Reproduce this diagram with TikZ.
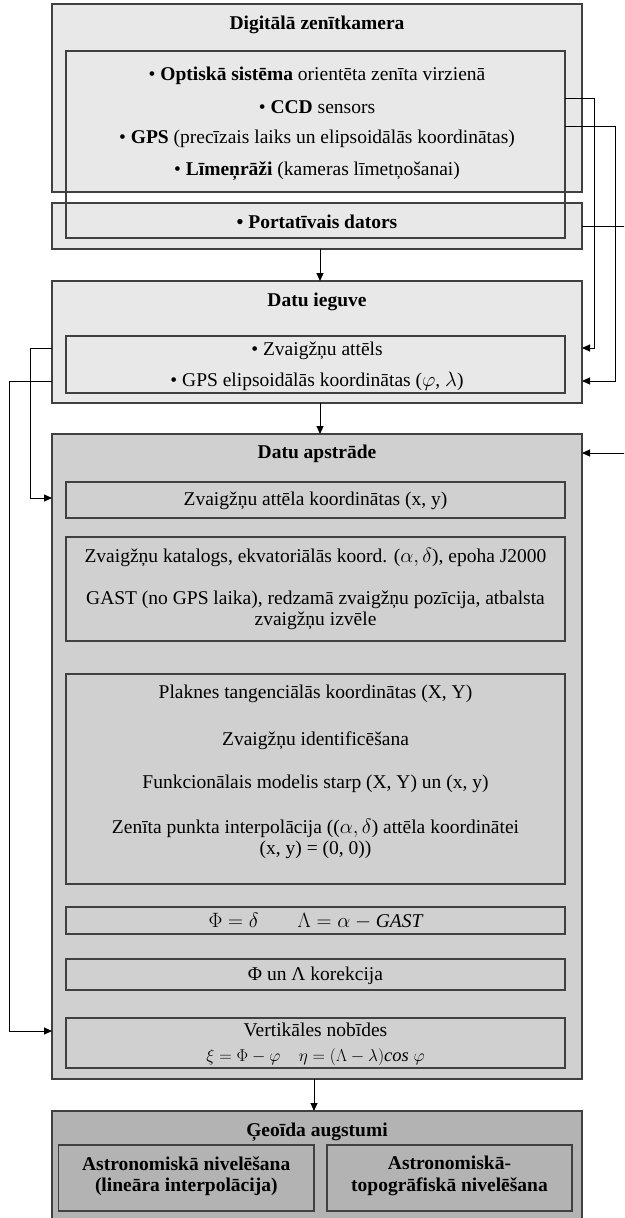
\documentclass[tikz,border=0pt]{standalone}
\usepackage{fontspec}
\setmainfont{Liberation Serif}
\usetikzlibrary{arrows.meta}
\definecolor{lg}{HTML}{E8E8E8}
\definecolor{mg}{HTML}{D0D0D0}
\definecolor{dg}{HTML}{B3B3B3}
\definecolor{lc}{HTML}{404040}
\begin{document}
\begin{tikzpicture}[x=1pt,y=-1pt,
  box/.style={draw=lc, line width=1.2pt, inner sep=0pt, outer sep=0pt},
  txt/.style={font=\fontsize{19.5}{21.5}\selectfont, inner sep=0pt, align=center},
  btxt/.style={font=\fontsize{19.5}{21.5}\selectfont\bfseries, inner sep=0pt, align=center},
  arr/.style={draw=black, line width=1pt, -{Triangle[length=8pt,width=7pt]}}]
\useasboundingbox (0,0) rectangle (624,1218);
\clip (0,0) rectangle (624,1218);
\fill[white] (0,0) rectangle (624,1218);

% Digitala zenitkamera
\node[box, fill=lg, minimum width=530pt, minimum height=188pt] (cam) at (317,98) {};
\node[box, fill=lg, minimum width=530pt, minimum height=46pt] (port) at (317,226) {};
\node[box, minimum width=499pt, minimum height=187pt] (camin) at (315.5,144.5) {};
\node[btxt] (camt) at (317,25) {Digitālā zenītkamera};
\node[txt] (c1) at (317,76) {• \textbf{Optiskā sistēma} orientēta zenīta virzienā};
\node[txt] (c2) at (317,107) {• \textbf{CCD} sensors};
\node[txt] (c3) at (317,139) {• \textbf{GPS} (precīzais laiks un elipsoidālās koordinātas)};
\node[txt] (c4) at (317,171) {• \textbf{Līmeņrāži} (kameras līmetņošanai)};
\node[btxt] (pt) at (317,222) {• Portatīvais dators};

% Datu ieguve
\node[box, fill=lg, minimum width=530pt, minimum height=122pt] (ieg) at (317,342) {};
\node[box, minimum width=499pt, minimum height=57pt] (iegin) at (315.5,364.5) {};
\node[btxt] (iegt) at (317,302) {Datu ieguve};
\node[txt] (i1) at (317,351) {• Zvaigžņu attēls};
\node[txt] (i2) at (317,381) {• GPS elipsoidālās koordinātas ($\varphi$, $\lambda$)};

% Datu apstrade
\node[box, fill=mg, minimum width=530pt, minimum height=645pt] (apst) at (317,756.5) {};
\node[btxt] (apt) at (317,454) {Datu apstrāde};
\node[box, minimum width=499pt, minimum height=36pt] (b1) at (315.5,500) {};
\node[txt] (b1t) at (315.5,501) {Zvaigžņu attēla koordinātas (x, y)};
\node[box, minimum width=499pt, minimum height=104pt] (b2) at (315.5,589) {};
\node[txt] (b2a) at (315.5,557) {Zvaigžņu katalogs, ekvatoriālās koord. ($\alpha,\delta$), epoha J2000};
\node[txt] (b2b) at (315.5,610.5) {GAST (no GPS laika), redzamā zvaigžņu pozīcija, atbalsta\\zvaigžņu izvēle};
\node[box, minimum width=499pt, minimum height=210pt] (b3) at (315.5,779) {};
\node[txt] (b3a) at (315.5,694) {Plaknes tangenciālās koordinātas (X, Y)};
\node[txt] (b3b) at (315.5,741) {Zvaigžņu identificēšana};
\node[txt] (b3c) at (315.5,784) {Funkcionālais modelis starp (X, Y) un (x, y)};
\node[txt] (b3d) at (315.5,839) {Zenīta punkta interpolācija (($\alpha,\delta$) attēla koordinātei\\(x, y) = (0, 0))};
\node[box, minimum width=499pt, minimum height=27pt] (b4) at (315.5,920.5) {};
\node[txt] (b4t) at (315.5,921) {$\Phi = \delta \qquad \Lambda = \alpha - \mathit{GAST}$};
\node[box, minimum width=499pt, minimum height=31pt] (b5) at (315.5,974.5) {};
\node[txt] (b5t) at (315.5,976) {Φ un Λ korekcija};
\node[box, minimum width=499pt, minimum height=50pt] (b6) at (315.5,1043) {};
\node[txt] (b6a) at (315.5,1030) {Vertikāles nobīdes};
\node[txt, font=\fontsize{18.5}{20}\selectfont] (b6b) at (315.5,1057.5) {$\xi = \Phi - \varphi \quad \eta = (\Lambda - \lambda)\mathit{cos}\ \varphi$};

% Geoida augstumi
\node[box, fill=dg, minimum width=530pt, minimum height=117pt] (geo) at (317,1169.5) {};
\node[btxt] (geot) at (317,1132) {Ģeoīda augstumi};
\node[box, minimum width=255.5pt, minimum height=66pt] (g1) at (186.25,1178) {};
\node[btxt] (g1t) at (186.25,1176) {Astronomiskā nivelēšana\\(lineāra interpolācija)};
\node[box, minimum width=245pt, minimum height=66pt] (g2) at (449.5,1178) {};
\node[btxt] (g2t) at (449.5,1176) {Astronomiskā-\\topogrāfiskā nivelēšana};

% connectors
\draw[arr] ([xshift=3pt]port.south) -- ([xshift=3pt]ieg.north);
\draw[arr] ([xshift=3pt]ieg.south) -- ([xshift=3pt]apst.north);
\draw[arr] ([xshift=-3pt]apst.south) -- ([xshift=-3pt]geo.north);
\draw[arr] ([yshift=-47pt]camin.north east) -- ++(29.5,0) |- ([yshift=-6pt]ieg.east);
\draw[arr] ([yshift=-75pt]camin.north east) -- ++(50.5,0) |- ([yshift=-39pt]ieg.east);
\draw[arr] (port.east) -- ++(48,0) |- ([yshift=-19pt]apst.north east);
\draw[arr] ([yshift=-6pt]ieg.west) -- ++(-21.4,0) |- ([yshift=-64pt]apst.north west);
\draw[arr] ([yshift=-39pt]ieg.west) -- ++(-42.7,0) |- ([yshift=-597pt]apst.north west);
\end{tikzpicture}
\end{document}
